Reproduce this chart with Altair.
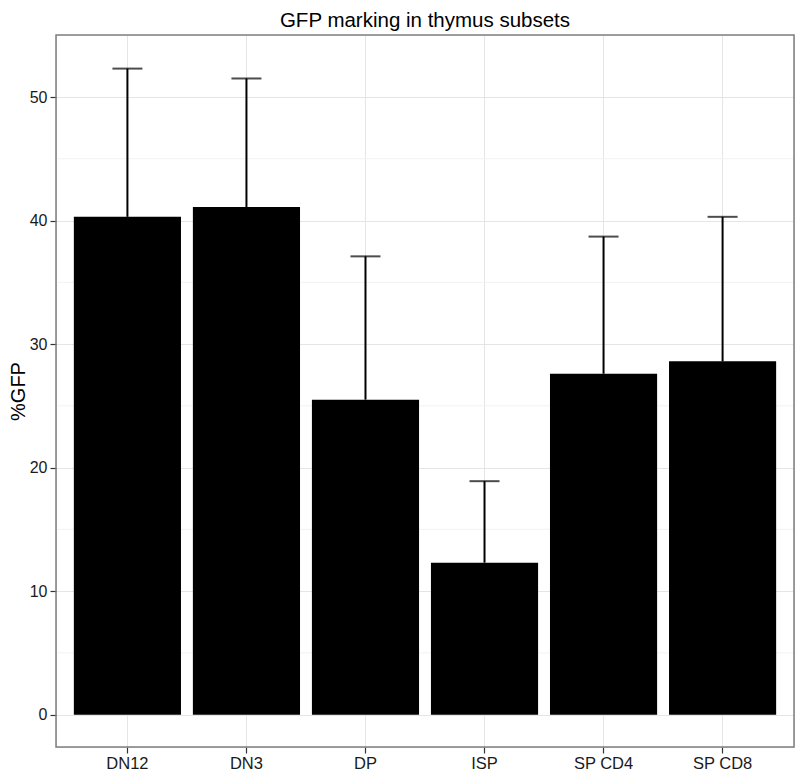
import altair as alt
import pandas as pd

categories = ["DN12", "DN3", "DP", "ISP", "SP CD4", "SP CD8"]
means = [40.3, 41.1, 25.5, 12.3, 27.6, 28.6]
uppers = [52.3, 51.5, 37.1, 18.9, 38.7, 40.3]
major_ticks = [0, 10, 20, 30, 40, 50]
minor_ticks = [5, 15, 25, 35, 45, 55]

df = pd.DataFrame({"cat": categories, "mean": means, "upper": uppers})
minor_df = pd.DataFrame({"v": minor_ticks})

FONT = "Liberation Sans"
W, H = 738, 712

xscale = alt.Scale(domain=categories, paddingInner=0.1, paddingOuter=0.15)
yscale = alt.Scale(domain=[-2.62, 55.02], nice=False, zero=False)

xaxis = alt.Axis(title=None, labelAngle=0, grid=True, gridColor="#E5E5E5",
                 domain=False, tickSize=6, tickColor="#333333", tickWidth=1.2,
                 labelFont=FONT, labelFontSize=16.5, labelColor="#1a1a1a", labelPadding=2)
yaxis = alt.Axis(title="%GFP", values=major_ticks, grid=True, gridColor="#E5E5E5",
                 domain=False, tickSize=6, tickColor="#333333", tickWidth=1.2,
                 labelFont=FONT, labelFontSize=16, labelColor="#1a1a1a", labelPadding=3,
                 titleFont=FONT, titleFontSize=20, titleFontWeight="normal",
                 titleColor="black", titlePadding=1)

minor = alt.Chart(minor_df).mark_rule(color="#F2F2F2", strokeWidth=1).encode(
    y=alt.Y("v:Q", scale=yscale, axis=yaxis)
)

bars = alt.Chart(df).mark_bar(color="black").encode(
    x=alt.X("cat:N", scale=xscale, axis=xaxis, sort=categories),
    y=alt.Y("mean:Q", scale=yscale, axis=yaxis),
)

err = alt.Chart(df).mark_rule(color="black", strokeWidth=2).encode(
    x=alt.X("cat:N", scale=xscale, sort=categories),
    y=alt.Y("mean:Q", scale=yscale),
    y2="upper:Q",
)

caps = alt.Chart(df).mark_tick(color="black", size=30, thickness=2, orient="horizontal").encode(
    x=alt.X("cat:N", scale=xscale, sort=categories),
    y=alt.Y("upper:Q", scale=yscale),
)

frame = alt.Chart(pd.DataFrame({"k": [0]})).mark_rect(
    filled=False, stroke="#7F7F7F", strokeWidth=1.5
).encode(x=alt.value(0), x2=alt.value(W), y=alt.value(0), y2=alt.value(H))

chart = alt.layer(minor, bars, err, caps, frame).properties(
    width=W, height=H,
    title=alt.TitleParams("GFP marking in thymus subsets", font=FONT, fontSize=20.5,
                          fontWeight="normal", color="black", anchor="middle", offset=3),
    autosize=alt.AutoSizeParams(type="none"),
    padding={"left": 48, "top": 27, "right": 2, "bottom": 25},
).configure_view(stroke=None).configure(background="white")

chart.save("out.html", embed_options={"renderer": "svg", "actions": False})
